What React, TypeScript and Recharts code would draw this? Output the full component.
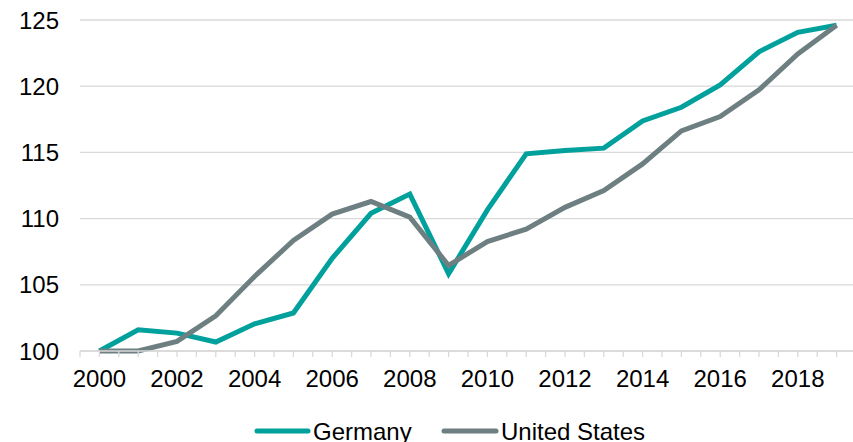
import React from "react";
import {
  LineChart,
  Line,
  XAxis,
  YAxis,
  CartesianGrid,
  Legend,
} from "recharts";

// Index, 2000 = 100
const years = [
  2000, 2001, 2002, 2003, 2004, 2005, 2006, 2007, 2008, 2009,
  2010, 2011, 2012, 2013, 2014, 2015, 2016, 2017, 2018, 2019,
];
const germany = [
  100.0, 101.6, 101.35, 100.68, 102.05, 102.87, 107.0, 110.4, 111.85, 105.83,
  110.66, 114.89, 115.14, 115.32, 117.38, 118.41, 120.1, 122.6, 124.07, 124.6,
];
const unitedStates = [
  100.0, 100.0, 100.73, 102.66, 105.63, 108.35, 110.34, 111.29, 110.11, 106.46,
  108.27, 109.2, 110.85, 112.12, 114.13, 116.63, 117.71, 119.72, 122.44, 124.6,
];

const yTicks = [100, 105, 110, 115, 120, 125];
const labelYears = [2000, 2002, 2004, 2006, 2008, 2010, 2012, 2014, 2016, 2018];

const seriesNames = ["Germany", "United States"];
const seriesColors = ["#00A09C", "#6E7F82"];

const data = years.map((year, i) => ({
  year,
  germany: germany[i],
  us: unitedStates[i],
}));

// tick marks at each year and halfway between years
const xTicks: number[] = [];
for (let t = years[0] - 0.5; t <= years[years.length - 1] + 0.5; t += 0.5) {
  xTicks.push(t);
}

const FONT = "Liberation Sans, Arial, Helvetica, sans-serif";
const FONT_SIZE = 24;

const LegendContent = () => (
  <svg width={853} height={30} style={{ display: "block", overflow: "visible" }}>
    <g>
      <line x1={257} x2={308} y1={19} y2={19} stroke={seriesColors[0]} strokeWidth={5} strokeLinecap="round" />
      <text x={313} y={28} fontSize={FONT_SIZE} fontFamily={FONT} fill="#000">
        {seriesNames[0]}
      </text>
      <line x1={444} x2={496} y1={19} y2={19} stroke={seriesColors[1]} strokeWidth={5} strokeLinecap="round" />
      <text x={501} y={28} fontSize={FONT_SIZE} fontFamily={FONT} fill="#000">
        {seriesNames[1]}
      </text>
    </g>
  </svg>
);

export default function App() {
  return (
    <div
      style={{
        position: "absolute",
        left: 0,
        top: 0,
        width: 853,
        height: 442,
        overflow: "hidden",
        background: "#fff",
      }}
    >
      <LineChart
        width={860}
        height={442}
        data={data}
        margin={{ top: 20, right: 4, left: 0, bottom: 0 }}
      >
        <CartesianGrid vertical={false} stroke="#D9D9D9" strokeWidth={1.3} />
        <XAxis
          dataKey="year"
          type="number"
          domain={[years[0] - 0.5, years[years.length - 1] + 0.5]}
          ticks={xTicks}
          interval={0}
          height={61}
          tickSize={6}
          tickMargin={13}
          axisLine={{ stroke: "#D9D9D9", strokeWidth: 1.3 }}
          tickLine={{ stroke: "#D9D9D9", strokeWidth: 1.3 }}
          tickFormatter={(v: number) => (labelYears.includes(v) ? String(v) : "")}
          tick={{ fontSize: FONT_SIZE, fill: "#000", fontFamily: FONT }}
        />
        <YAxis
          domain={[100, 125]}
          ticks={yTicks}
          width={80}
          axisLine={false}
          tickLine={false}
          tickSize={0}
          tickMargin={21}
          tick={{ fontSize: FONT_SIZE, fill: "#000", fontFamily: FONT }}
        />
        <Legend verticalAlign="bottom" height={30} content={() => <LegendContent />} />
        <Line
          dataKey="germany"
          name={seriesNames[0]}
          stroke={seriesColors[0]}
          strokeWidth={5}
          dot={false}
          type="linear"
          isAnimationActive={false}
        />
        <Line
          dataKey="us"
          name={seriesNames[1]}
          stroke={seriesColors[1]}
          strokeWidth={5}
          dot={false}
          type="linear"
          isAnimationActive={false}
        />
      </LineChart>
    </div>
  );
}
